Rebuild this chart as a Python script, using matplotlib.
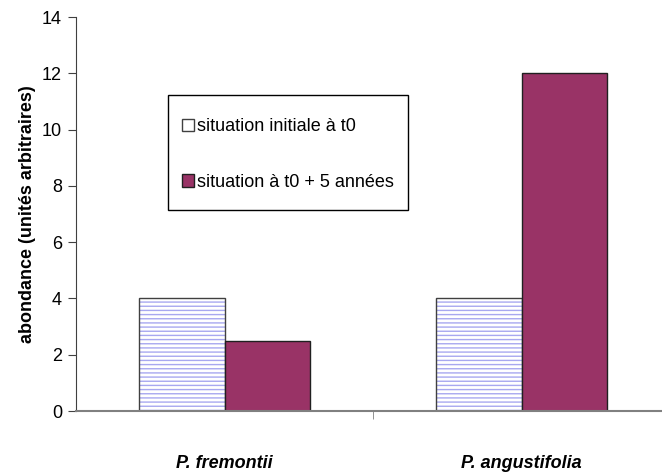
import matplotlib.pyplot as plt
from matplotlib.patches import Rectangle
import numpy as np

species = ['P. fremontii', 'P. angustifolia']
initial = [4, 4]
after_5 = [2.5, 12]
yticks = [0, 2, 4, 6, 8, 10, 12, 14]

plt.rcParams['font.family'] = ['Liberation Sans', 'DejaVu Sans']
plt.rcParams['hatch.linewidth'] = 1.0

W, H = 662, 475
fig = plt.figure(figsize=(W / 100, H / 100), dpi=100)
ax = fig.add_axes([76 / W, 64 / H, 1 - 76 / W, (411 - 17) / H])

x = np.arange(len(species))
w = 0.287

# hatched bars: draw hatch first, outline on top
ax.bar(x - w / 2, initial, w, color='white', edgecolor='#a8a8f0', hatch='----', linewidth=0)
ax.bar(x - w / 2, initial, w, fill=False, edgecolor='#404040', linewidth=1.0,
       label='situation initiale à t0')
ax.bar(x + w / 2, after_5, w, color='#993366', edgecolor='#202020', linewidth=1.0,
       label='situation à t0 + 5 années')

ax.set_xlim(-0.5, (W - 76) / 297 - 0.5)
ax.set_ylim(0, 14)
ax.set_yticks(yticks)
ax.tick_params(axis='y', length=6, pad=4, labelsize=13, color='#404040')

ax.set_xticks(x)
ax.set_xticklabels(species, fontweight='bold', fontstyle='italic', fontsize=13)
ax.tick_params(axis='x', length=0, pad=32)
ax.set_xticks([0.5], minor=True)
ax.tick_params(axis='x', which='minor', length=6, color='#808080')

ax.spines['top'].set_visible(False)
ax.spines['right'].set_visible(False)
ax.spines['left'].set_color('#404040')
ax.spines['bottom'].set_color('#808080')
ax.spines['bottom'].set_linewidth(1.5)

ax.set_ylabel('abondance (unités arbitraires)', fontweight='bold', fontsize=13, labelpad=4)

# legend without its own frame; box drawn separately (pixel layout from reference)
def fx(px):
    return px / W

def fy(py):
    return 1 - py / H

leg = fig.legend(loc='upper left', bbox_to_anchor=(fx(182), fy(118)),
                 frameon=False, fontsize=13,
                 handlelength=0.65, handleheight=0.65, handletextpad=0.2,
                 labelspacing=2.15, borderpad=0, borderaxespad=0)
fig.patches.append(Rectangle((fx(168), fy(210)), fx(408) - fx(168), fy(95) - fy(210),
                             transform=fig.transFigure, fill=True, facecolor='white',
                             edgecolor='black', linewidth=1.0, zorder=3))

fig.savefig('out.png', dpi=100)
